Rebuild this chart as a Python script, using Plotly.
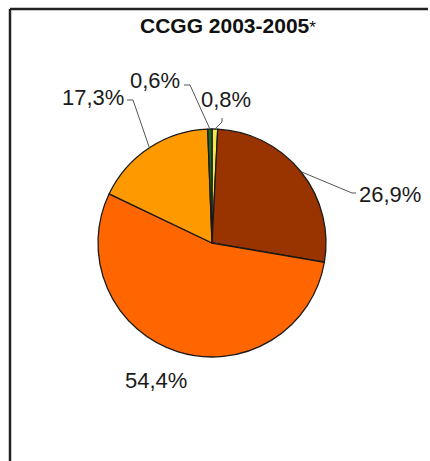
import math
import plotly.graph_objects as go

# Slice data, clockwise from 12 o'clock
labels = ['0,8%', '26,9%', '54,4%', '17,3%', '0,6%']
values = [0.8, 26.9, 54.4, 17.3, 0.6]
colors = ['#F2E84A', '#993300', '#FF6600', '#FF9900', '#1E6B1E']
title_text = 'CCGG 2003-2005'

W, H = 430, 461
cx, cy, r = 212, 243, 114   # pie centre / radius in pixels

fig = go.Figure()
fig.add_trace(go.Pie(
    values=values,
    labels=labels,
    marker=dict(colors=colors, line=dict(color='#1a1a1a', width=1.3)),
    sort=False,
    direction='clockwise',
    rotation=0,
    textinfo='none',
    hoverinfo='label',
    showlegend=False,
    domain=dict(x=[(cx - r) / W, (cx + r) / W],
                y=[(H - cy - r) / H, (H - cy + r) / H]),
))

# edge point of each slice at its mid angle
total = sum(values)
edges = []
acc = 0
for v in values:
    a = (acc + v / 2) / total * 2 * math.pi
    edges.append((cx + r * math.sin(a), cy - r * math.cos(a)))
    acc += v

# label text position, elbow points of leader line (None = no leader)
label_pos = [(226, 99), (390, 194), (156, 380), (93, 97), (155, 80)]
leaders = [
    [(222, 122), (222, 118)],
    [(352, 193), (356, 193)],
    None,
    [(133, 100), (127, 100)],
    [(190, 85), (184, 85)],
]

shapes = []
for i, pts in enumerate(leaders):
    if pts is None:
        continue
    ex, ey = edges[i]
    path = f'M {ex:.1f},{ey:.1f} ' + ' '.join(f'L {x},{y}' for x, y in pts)
    shapes.append(dict(type='path', path=path, xref='x', yref='y',
                       line=dict(color='#555555', width=1)))

# frame around the chart
shapes.append(dict(type='line', xref='x', yref='y', x0=10, y0=9, x1=428, y1=9,
                   line=dict(color='#222222', width=2.5)))
shapes.append(dict(type='line', xref='x', yref='y', x0=10, y0=9, x1=10, y1=461,
                   line=dict(color='#222222', width=2.5)))

annotations = []
for lab, (x, y) in zip(labels, label_pos):
    annotations.append(dict(x=x, y=y, xref='x', yref='y', text=lab, showarrow=False,
                            font=dict(family='Liberation Sans, Arial', size=22, color='#1a1a1a')))
annotations.append(dict(x=228, y=25, xref='x', yref='y',
                        text=f'<b>{title_text}</b><span style="font-size:17px">*</span>',
                        showarrow=False,
                        font=dict(family='Liberation Sans, Arial', size=21, color='#111111')))

fig.update_layout(
    width=W, height=H,
    margin=dict(l=0, r=0, t=0, b=0),
    paper_bgcolor='white', plot_bgcolor='rgba(0,0,0,0)',
    xaxis=dict(range=[0, W], visible=False, fixedrange=True),
    yaxis=dict(range=[H, 0], visible=False, fixedrange=True),
    shapes=shapes,
    annotations=annotations,
)

fig.write_html('out.html', config={'displayModeBar': False},
               post_script="document.body.style.margin='0';")
